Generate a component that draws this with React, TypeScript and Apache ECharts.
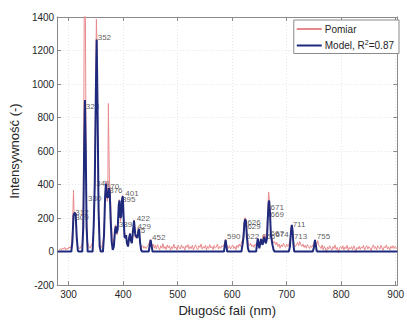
import React, { useEffect, useRef } from "react";
import * as echarts from "echarts";

// Tick labels
const xTicks = [300, 400, 500, 600, 700, 800, 900];

// Measured spectrum (Pomiar): wavelength [nm] and intensity
const pomiarNm = [
  283, 285, 287, 289, 291, 293, 295, 297, 299, 301, 303, 305, 307, 308, 309, 310, 311, 312, 313, 315, 317, 319, 321, 323, 325,
  327, 328, 329, 330, 331, 332, 333, 335, 337, 339, 341, 343, 345, 347, 348, 349, 350, 351, 352, 353, 354, 356, 358, 360, 362,
  364, 366, 367, 368, 369, 370, 371, 372, 373, 374, 375, 376, 377, 378, 380, 382, 384, 385, 386, 387, 389, 391, 392, 393, 394,
  395, 396, 397, 398, 399, 400, 401, 402, 404, 405, 406, 408, 410, 411, 412, 413, 414, 416, 418, 419, 420, 421, 422, 423, 424,
  425, 427, 428, 429, 430, 432, 434, 436, 438, 440, 442, 444, 446, 448, 450, 451, 453, 455, 457, 459, 461, 463, 465, 467, 469,
  471, 473, 475, 477, 479, 481, 483, 485, 487, 489, 491, 493, 495, 497, 499, 501, 503, 505, 507, 509, 511, 513, 515, 517, 519,
  521, 523, 525, 527, 529, 531, 533, 535, 537, 539, 541, 543, 545, 547, 549, 551, 553, 555, 557, 559, 561, 563, 565, 567, 569,
  571, 573, 575, 577, 579, 581, 583, 585, 587, 588, 589, 591, 593, 595, 597, 599, 601, 603, 605, 607, 609, 611, 613, 615, 617,
  619, 620, 621, 622, 623, 624, 625, 626, 627, 628, 630, 632, 634, 636, 638, 640, 642, 644, 646, 647, 648, 650, 652, 654, 656,
  658, 659, 660, 662, 664, 665, 666, 667, 668, 669, 670, 671, 672, 674, 676, 678, 680, 682, 684, 686, 688, 690, 692, 694, 696,
  698, 700, 702, 704, 706, 707, 708, 709, 710, 711, 712, 714, 716, 718, 720, 722, 724, 726, 728, 730, 732, 734, 736, 738, 740,
  742, 744, 746, 748, 750, 751, 752, 753, 755, 757, 759, 761, 763, 765, 767, 769, 771, 773, 775, 777, 779, 781, 783, 785, 787,
  789, 791, 793, 795, 797, 799, 801, 803, 805, 807, 809, 811, 813, 815, 817, 819, 821, 823, 825, 827, 829, 831, 833, 835, 837,
  839, 841, 843, 845, 847, 849, 851, 853, 855, 857, 859, 861, 863, 865, 867, 869, 871, 873, 875, 877, 879, 881, 883, 885, 887,
  889, 891, 893, 895, 897, 899, 901, 903,
];
const pomiarVal = [
  12, 18, 8, 22, 14, 25, 10, 20, 15, 28, 20, 35, 120, 250, 366, 240, 225, 210, 180, 90, 30, 22, 18, 30, 45,
  300, 900, 1650, 1700, 1300, 600, 200, 50, 30, 20, 35, 40, 80, 250, 420, 700, 1100, 1388, 1250, 800, 450, 120, 40, 25, 40,
  80, 200, 330, 420, 380, 330, 300, 380, 884, 600, 420, 380, 300, 200, 80, 40, 90, 140, 160, 120, 100, 200, 270, 310, 260,
  180, 200, 280, 320, 335, 300, 200, 130, 100, 95, 70, 40, 60, 90, 110, 95, 60, 50, 90, 150, 190, 160, 120, 80, 95,
  85, 110, 140, 120, 80, 40, 25, 35, 20, 30, 18, 28, 35, 55, 72, 55, 30, 45, 20, 38, 15, 42, 25, 10, 35,
  20, 48, 18, 30, 12, 40, 22, 35, 8, 30, 18, 45, 20, 28, 10, 38, 22, 15, 40, 20, 30, 8, 35, 25, 42,
  15, 30, 18, 38, 10, 28, 40, 20, 12, 35, 25, 45, 15, 30, 20, 38, 10, 32, 18, 42, 22, 30, 12, 36, 20,
  28, 45, 15, 30, 20, 35, 28, 40, 60, 75, 55, 30, 20, 35, 15, 28, 40, 18, 30, 12, 38, 25, 45, 30, 50,
  70, 95, 120, 180, 200, 203, 190, 160, 120, 80, 45, 35, 50, 30, 40, 25, 45, 35, 55, 80, 70, 45, 70, 60, 80,
  95, 100, 80, 90, 140, 220, 300, 356, 320, 250, 180, 120, 90, 70, 50, 60, 40, 55, 30, 45, 20, 40, 28, 50, 35,
  25, 45, 30, 40, 70, 110, 145, 155, 140, 100, 65, 45, 30, 40, 55, 35, 60, 40, 30, 45, 25, 38, 20, 42, 30,
  18, 35, 25, 40, 45, 60, 70, 55, 40, 65, 35, 30, 18, 40, 10, 32, 22, -5, 28, 15, 35, 20, 8, 30, 18,
  40, 12, 25, -8, 20, 30, 15, 35, 10, 28, 18, 38, 5, 25, 15, 30, 10, 35, 20, -5, 25, 15, 32, 12, 28,
  20, 38, 8, 25, 35, 15, 30, 22, 5, 28, 40, 18, 30, 10, 35, 25, 15, 38, 20, 8, 30, 22, 40, 15, 28,
  10, 32, 20, 35, 18, 30, 25, 15,
];

// Fitted model: wavelength [nm] and intensity
const modelNm = [
  280, 305, 307, 309, 311, 313, 315, 317, 319, 325, 327, 328.5, 330, 331.5, 333, 335, 344, 346, 348, 350, 351.5, 353, 355, 357, 359,
  363, 365, 367, 368.5, 370, 372, 374, 375.5, 377, 379, 381, 383, 385, 386.5, 388, 390, 392, 393.5, 395, 396.5, 398, 399.5, 401,
  402.5, 404, 405.5, 407, 409, 411, 412.7, 414, 416, 418, 420, 422, 423, 424.5, 426, 428, 429.5, 431, 433, 435, 447, 449, 450.5,
  452, 454, 585, 586.5, 588, 589.5, 591, 617, 619, 621, 622.5, 624, 625.5, 627, 629, 631, 644, 645.5, 647, 648.5, 650, 651.5, 653,
  654.5, 656, 657.5, 659, 660.5, 662, 664, 665.5, 667, 668, 669.5, 671, 672.5, 674, 676, 678, 704, 706, 708, 709.5, 711, 712.5,
  714, 748, 750, 752, 753.5, 755, 757, 903,
];
const modelVal = [
  0, 0, 60, 215, 232, 225, 80, 5, 0, 0, 150, 600, 905, 600, 150, 0, 0, 150, 400, 950, 1265, 900, 250, 30, 0,
  0, 100, 330, 405, 330, 320, 380, 360, 200, 60, 10, 30, 120, 150, 110, 130, 280, 305, 200, 210, 310, 330, 200,
  90, 80, 98, 50, 30, 80, 107, 70, 50, 120, 185, 110, 90, 98, 80, 125, 135, 60, 10, 0, 0, 40, 70,
  40, 0, 0, 35, 70, 35, 0, 0, 40, 90, 170, 193, 180, 90, 20, 0, 0, 40, 78, 40, 20, 50, 75,
  50, 40, 70, 88, 60, 50, 80, 200, 290, 305, 230, 100, 70, 40, 10, 0, 0, 30, 120, 160, 120, 40,
  0, 0, 25, 70, 40, 5, 0, 0,
];

// Peak annotations: text, wavelength, intensity (left-centre of each label)
const peakText = ["328", "352", "330", "312", "309", "348", "370", "376", "401", "395", "389", "422", "429", "415", "452",
  "590", "622", "626", "629", "656", "671", "669", "667", "674", "711", "713", "755"];
const peakNm = [331.5, 353.4, 335.6, 312.3, 312.3, 350.6, 368.4, 374.5, 404, 398, 392, 424.8, 426.6, 416, 453.2,
  590.6, 625, 628, 628, 654.6, 670.6, 670.6, 670.6, 679.5, 711, 713.3, 755.4];
const peakVal = [864, 1279, 318, 231, 205, 405, 389, 366, 347, 308, 164, 199, 149, 126, 84,
  88, 88, 174, 151, 88, 266, 222, 107, 100, 159, 88, 88];

const FONT = "'Liberation Sans', Arial, sans-serif";
const TXT = "#262626";
const FRAME = "#8a8a8a";

export default function App() {
  const ref = useRef<HTMLDivElement>(null);
  useEffect(() => {
    if (!ref.current) return;
    const chart = echarts.init(ref.current, undefined, { renderer: "svg" });
    const pomiar = pomiarNm.map((x, i) => [x, pomiarVal[i]]);
    const model = modelNm.map((x, i) => [x, modelVal[i]]);
    const labels = peakText.map((t, i) => ({ name: t, value: [peakNm[i], peakVal[i]] }));
    const frameAxisLine = { show: true, onZero: false, lineStyle: { color: FRAME, width: 1 } };
    chart.setOption({
      animation: false,
      textStyle: { fontFamily: FONT },
      grid: { left: 53, top: 17, width: 351, height: 278 },
      legend: {
        data: ["Pomiar", "Model"],
        orient: "vertical",
        top: 20,
        right: 8,
        itemWidth: 25,
        itemHeight: 2,
        itemGap: 5,
        icon: "rect",
        backgroundColor: "#ffffff",
        borderColor: "#8a8a8a",
        borderWidth: 1,
        borderRadius: 0,
        padding: [4, 5, 3, 3],
        formatter: (n: string) => (n === "Model" ? "Model, R{sup|2}=0.87" : n),
        textStyle: {
          fontSize: 10,
          color: TXT,
          fontFamily: FONT,
          padding: [0, 0, 0, -2],
          rich: { sup: { fontSize: 7, color: TXT, padding: [0, 0, 6, 0], fontFamily: FONT } },
        },
      },
      xAxis: [
        {
          type: "value",
          min: 279,
          max: 903,
          position: "bottom",
          axisLine: frameAxisLine,
          axisTick: { show: true, inside: true, length: 4, customValues: xTicks, lineStyle: { color: FRAME } },
          axisLabel: { customValues: xTicks, fontSize: 10, color: TXT, margin: 4, fontFamily: FONT },
          splitLine: { show: true, lineStyle: { color: "#e6e6e6", type: [1, 2] } },
          name: "Długość fali (nm)",
          nameLocation: "middle",
          nameGap: 15,
          nameTextStyle: { fontSize: 13, color: TXT, fontFamily: FONT },
        },
        {
          type: "value",
          min: 279,
          max: 903,
          position: "top",
          axisLine: frameAxisLine,
          axisTick: { show: true, inside: true, length: 4, customValues: xTicks, lineStyle: { color: FRAME } },
          axisLabel: { show: false, customValues: xTicks },
          splitLine: { show: false },
        },
      ],
      yAxis: [
        {
          type: "value",
          min: -200,
          max: 1400,
          interval: 200,
          position: "left",
          axisLine: frameAxisLine,
          axisTick: { show: true, inside: true, length: 4, lineStyle: { color: FRAME } },
          axisLabel: { fontSize: 10, color: TXT, margin: 3, fontFamily: FONT, formatter: (v: number) => String(v) },
          splitLine: { show: true, lineStyle: { color: "#e6e6e6", type: [1, 2] } },
          name: "Intensywność (-)",
          nameLocation: "middle",
          nameGap: 30,
          nameTextStyle: { fontSize: 13, color: TXT, fontFamily: FONT },
        },
        {
          type: "value",
          min: -200,
          max: 1400,
          interval: 200,
          position: "right",
          axisLine: frameAxisLine,
          axisTick: { show: true, inside: true, length: 4, lineStyle: { color: FRAME } },
          axisLabel: { show: false },
          splitLine: { show: false },
        },
      ],
      series: [
        {
          name: "Peaks",
          type: "scatter",
          z: 1,
          symbolSize: 0,
          data: labels,
          silent: true,
          label: {
            show: true,
            position: "right",
            distance: 0,
            formatter: "{b}",
            fontSize: 8,
            color: "#333333",
            fontFamily: FONT,
          },
          labelLayout: { hideOverlap: false },
        },
        {
          name: "Pomiar",
          type: "line",
          z: 2,
          data: pomiar,
          showSymbol: false,
          symbol: "none",
          lineStyle: { color: "#e88a8c", width: 1 },
          itemStyle: { color: "#e88a8c" },
        },
        {
          name: "Model",
          type: "line",
          z: 3,
          data: model,
          showSymbol: false,
          symbol: "none",
          lineStyle: { color: "#1f2a7c", width: 2 },
          itemStyle: { color: "#1f2a7c" },
        },
      ],
    });
    return () => chart.dispose();
  }, []);
  return <div ref={ref} style={{ width: 407, height: 322, position: "absolute", left: 0, top: 0 }} />;
}
